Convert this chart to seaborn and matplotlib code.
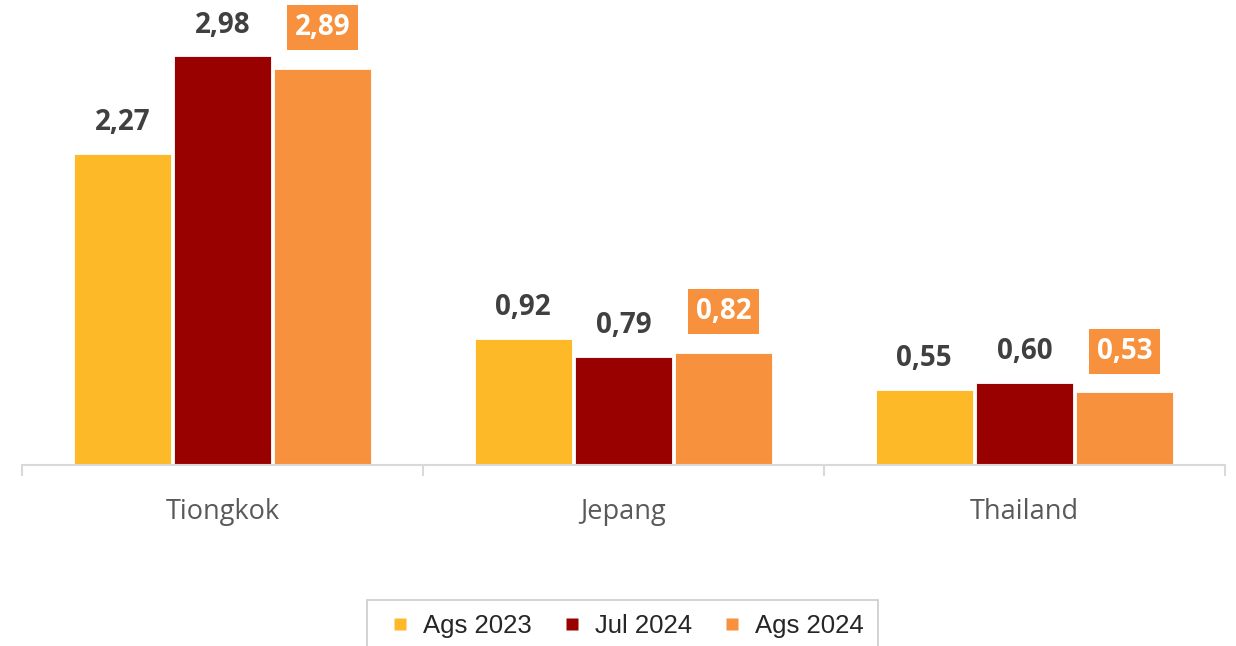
import matplotlib
matplotlib.use("Agg")
import matplotlib.pyplot as plt
from matplotlib.lines import Line2D
import seaborn as sns
import pandas as pd

countries = ["Tiongkok", "Jepang", "Thailand"]
periods = ["Ags 2023", "Jul 2024", "Ags 2024"]
ags_2023 = [2.27, 0.92, 0.55]
jul_2024 = [2.98, 0.79, 0.60]
ags_2024 = [2.89, 0.82, 0.53]

colors = ["#FDB927", "#990000", "#F7913D"]

df = pd.DataFrame({
    "Negara": countries * 3,
    "Periode": [p for p in periods for _ in countries],
    "Nilai": ags_2023 + jul_2024 + ags_2024,
})

sns.set_theme(style="white")
plt.rcParams["font.family"] = ["Open Sans", "DejaVu Sans"]

fig = plt.figure(figsize=(12.36, 6.46), dpi=100)
ax = fig.add_axes([22 / 1236, 1 - 465 / 646, (1225 - 22) / 1236, 465 / 646])

sns.barplot(data=df, x="Negara", y="Nilai", hue="Periode", hue_order=periods,
            order=countries, palette=colors, saturation=1, width=0.75, gap=0.03,
            edgecolor="white", linewidth=0.6, legend=False, ax=ax)

ax.set_ylim(0, 3.39)
ax.set_xlim(-0.5, 2.5)
ax.set_xlabel("")
ax.set_ylabel("")
ax.set_yticks([])
for s in ["top", "right", "left"]:
    ax.spines[s].set_visible(False)
ax.spines["bottom"].set_color("#d9d9d9")
ax.spines["bottom"].set_linewidth(1.5)

ax.set_xticks([0, 1, 2])
ax.set_xticklabels(countries, fontsize=19.5, color="#595959")
ax.tick_params(axis="x", which="major", bottom=True, length=0, pad=24)
# boundary ticks between categories
ax.set_xticks([-0.5, 0.5, 1.5, 2.5], minor=True)
ax.tick_params(axis="x", which="minor", bottom=True, length=8, width=1.5,
               color="#d9d9d9", direction="out")

def fmt(v):
    return f"{v:.2f}".replace(".", ",")

for i, cont in enumerate(ax.containers):
    labels = [fmt(b.get_height()) for b in cont]
    if i == 2:
        ax.bar_label(cont, labels=labels, padding=19, fontsize=20, fontweight="bold",
                     color="white",
                     bbox=dict(boxstyle="square,pad=0.28", facecolor="#F7913D",
                               edgecolor="none"))
    else:
        ax.bar_label(cont, labels=labels, padding=12, fontsize=20, fontweight="bold",
                     color="#404040")

handles = [Line2D([], [], linestyle="none", marker="s", markersize=8.5,
                  markerfacecolor=c, markeredgecolor="none") for c in colors]
leg = fig.legend(handles, periods, loc="upper center", bbox_to_anchor=(0.5035, 1 - 600 / 646),
                 ncol=3, frameon=True, fancybox=False, edgecolor="#bfbfbf",
                 handlelength=1.5, handletextpad=0.15, columnspacing=0.8,
                 borderpad=0.55, borderaxespad=0,
                 prop={"family": "Liberation Sans", "size": 18.5})
leg.get_frame().set_linewidth(1.2)

fig.savefig("out.png", dpi=100)
